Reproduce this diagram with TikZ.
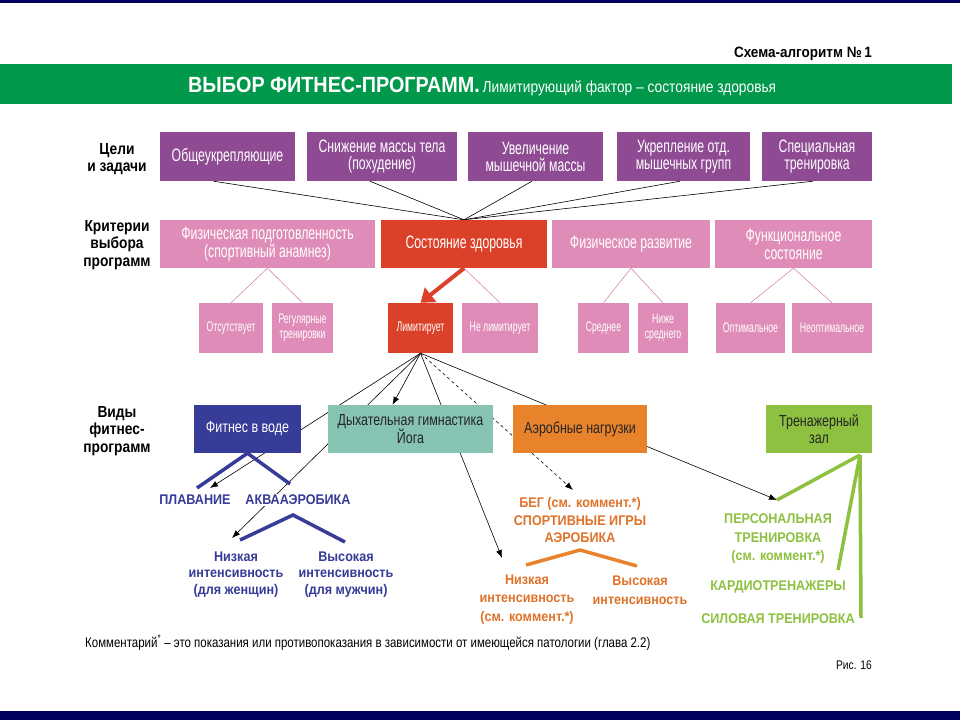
\documentclass[tikz,border=0pt]{standalone}
\usepackage{fontspec}
\setmainfont{Liberation Sans}
\newfontfamily\fBox[FakeStretch=0.68]{Liberation Sans}
\newfontfamily\fSmall[FakeStretch=0.62]{Liberation Sans}
\newfontfamily\fLow[FakeStretch=0.78]{Liberation Sans}
\newfontfamily\fLab[FakeStretch=0.86]{Liberation Sans}
\newfontfamily\fCap[FakeStretch=0.9]{Liberation Sans}
\newfontfamily\fTitle[FakeStretch=0.9]{Liberation Sans}
\newfontfamily\fSub[FakeStretch=0.86]{Liberation Sans}
\newfontfamily\fFoot[FakeStretch=0.82]{Liberation Sans}
\usetikzlibrary{arrows.meta,calc}
\definecolor{cNavy}{HTML}{00005E}
\definecolor{cBand}{HTML}{00984A}
\definecolor{cPurple}{HTML}{8E4A93}
\definecolor{cPink}{HTML}{DF8DB8}
\definecolor{cPinkLine}{HTML}{D88BB0}
\definecolor{cRed}{HTML}{DA4128}
\definecolor{cBlue}{HTML}{363C97}
\definecolor{cTeal}{HTML}{86C3B3}
\definecolor{cOrange}{HTML}{E8822B}
\definecolor{cLime}{HTML}{8DC13F}
\definecolor{cOrT}{HTML}{E0732A}
\definecolor{cGrT}{HTML}{8DC13F}
\pgfdeclarelayer{bg}
\pgfsetlayers{bg,main}
\tikzset{
  box/.style={inner sep=0pt, align=center, text=white},
  pbox/.style={box, fill=cPurple, minimum height=49pt, font=\fBox\fontsize{18}{17}\selectfont},
  kbox/.style={box, fill=cPink, minimum height=48pt, font=\fBox\fontsize{18}{18}\selectfont},
  sbox/.style={box, fill=cPink, minimum height=50pt, font=\fSmall\fontsize{14}{15}\selectfont},
  lbox/.style={box, minimum height=48pt, font=\fLow\fontsize{16}{17}\selectfont},
  lab/.style={align=center, inner sep=0pt, font=\fLab\bfseries\fontsize{16}{17.5}\selectfont},
  captext/.style={align=center, inner sep=1pt, font=\fCap\bfseries\fontsize{14}{17.5}\selectfont},
  conn/.style={line width=0.6pt, black},
  tip/.style={-{Latex[length=8pt,width=6pt]}},
  pinkln/.style={line width=0.6pt, cPinkLine},
  vline/.style={line width=3.5pt, line cap=butt, line join=miter},
  redarrow/.style={line width=4pt, cRed, -{Triangle[length=13pt,width=18pt]}},
}
\begin{document}
\begin{tikzpicture}[x=1pt,y=-1pt]
\useasboundingbox (0,0) rectangle (960,720);
% frame bars
\fill[cNavy] (0,0) rectangle (960,2.5);
\fill[cNavy] (0,711) rectangle (960,720);
\fill[cBand] (0,64) rectangle (952,104);
% header
\node[anchor=base east, inner sep=0pt, font=\fTitle\bfseries\fontsize{15}{15}\selectfont] (alg) at (872,57) {Схема-алгоритм №\,1};
\node[anchor=base west, inner sep=0pt, text=white] (title) at (188,92)
  {{\fTitle\bfseries\fontsize{22}{22}\selectfont ВЫБОР ФИТНЕС-ПРОГРАММ.} {\fSub\fontsize{16}{16}\selectfont Лимитирующий фактор – состояние здоровья}};
% left labels
\node[lab] (l1) at (117,159) {Цели\\и задачи};
\node[lab] (l2) at (117,245) {Критерии\\выбора\\программ};
\node[lab] (l3) at (117,431) {Виды\\фитнес-\\программ};
% goals
\node[pbox, minimum width=135pt] (p1) at (227.5,156.5) {Общеукрепляющие};
\node[pbox, minimum width=150pt] (p2) at (382,156.5) {Снижение массы тела\\(похудение)};
\node[pbox, minimum width=135pt] (p3) at (535.5,156.5) {Увеличение\\мышечной массы};
\node[pbox, minimum width=133pt] (p4) at (683.5,156.5) {Укрепление отд.\\мышечных групп};
\node[pbox, minimum width=110pt] (p5) at (817,156.5) {Специальная\\тренировка};
% criteria
\node[kbox, minimum width=215pt] (c1) at (267.5,244) {Физическая подготовленность\\(спортивный анамнез)};
\node[kbox, fill=cRed, minimum width=166pt] (c2) at (464,244) {Состояние здоровья};
\node[kbox, minimum width=158pt] (c3) at (631,244) {Физическое развитие};
\node[kbox, minimum width=157pt] (c4) at (793.5,244) {Функциональное\\состояние};
% small boxes
\node[sbox, minimum width=64pt] (s1) at (231,328) {Отсутствует};
\node[sbox, minimum width=61pt] (s2) at (302.5,328) {Регулярные\\тренировки};
\node[sbox, fill=cRed, minimum width=65pt] (s3) at (420.5,328) {Лимитирует};
\node[sbox, minimum width=76pt] (s4) at (500,328) {Не лимитирует};
\node[sbox, minimum width=51pt] (s5) at (603.5,328) {Среднее};
\node[sbox, minimum width=50pt] (s6) at (663,328) {Ниже\\среднего};
\node[sbox, minimum width=69pt] (s7) at (750.5,328) {Оптимальное};
\node[sbox, minimum width=80pt] (s8) at (832,328) {Неоптимальное};
% program kinds
\node[lbox, fill=cBlue, minimum width=107pt] (f1) at (247.5,429) {Фитнес в воде};
\node[lbox, fill=cTeal, text=black!85, minimum width=165pt] (f2) at (410.5,429) {Дыхательная гимнастика\\Йога};
\node[lbox, fill=cOrange, text=black!85, minimum width=134pt] (f3) at (580,429) {Аэробные нагрузки};
\node[lbox, fill=cLime, text=black!85, minimum width=106pt] (f4) at (819,429) {Тренажерный\\зал};
% blue texts
\node[captext, text=cBlue] (plav) at (195,500) {ПЛАВАНИЕ};
\node[captext, text=cBlue, fill=white] (akva) at (298,500) {АКВААЭРОБИКА};
\node[captext, text=cBlue, font=\fCap\bfseries\fontsize{14}{16.5}\selectfont] (nizb) at (236,574.5) {Низкая\\интенсивность\\(для женщин)};
\node[captext, text=cBlue, font=\fCap\bfseries\fontsize{14}{16.5}\selectfont] (vysb) at (346,574.5) {Высокая\\интенсивность\\(для мужчин)};
% orange texts
\node[captext, text=cOrT] (beg) at (580,520) {БЕГ (см. коммент.*)\\СПОРТИВНЫЕ ИГРЫ\\АЭРОБИКА};
\node[captext, text=cOrT, font=\fCap\bfseries\fontsize{14}{18.5}\selectfont] (nizo) at (527,599.5) {Низкая\\интенсивность\\(см. коммент.*)};
\node[captext, text=cOrT, font=\fCap\bfseries\fontsize{14}{18.5}\selectfont] (vyso) at (640,590) {Высокая\\интенсивность};
% green texts
\node[captext, text=cGrT, font=\fCap\bfseries\fontsize{14}{18.5}\selectfont] (pers) at (778,539) {ПЕРСОНАЛЬНАЯ\\ТРЕНИРОВКА\\(см. коммент.*)};
\node[captext, text=cGrT] (kard) at (778,587) {КАРДИОТРЕНАЖЕРЫ};
\node[captext, text=cGrT] (silo) at (778,619) {СИЛОВАЯ ТРЕНИРОВКА};
% footer
\node[anchor=base west, inner sep=0pt, font=\fFoot\fontsize{14}{14}\selectfont] (foot) at (85,647) {Комментарий\textsuperscript{*} – это показания или противопоказания в зависимости от имеющейся патологии (глава 2.2)};
\node[anchor=base east, inner sep=0pt, font=\fFoot\fontsize{12.5}{12.5}\selectfont] (fig) at (872,669) {Рис. 16};
% free ends
\coordinate (tPlav) at (210,488);
\coordinate (tNizB) at (232,538);
\coordinate (tNizO) at (502,558);
\coordinate (tBeg) at (573,490);
\coordinate (tPers) at (777,500);
\coordinate (bA) at (197,488);
\coordinate (bB) at (290,484);
\coordinate (bC) at (293,515);
\coordinate (bD) at (240,540);
\coordinate (bE) at (345,542);
\coordinate (oA) at (580,550);
\coordinate (oB) at (526,565);
\coordinate (oC) at (637,566);
\coordinate (gA) at (860,455);
\coordinate (gB) at (838,570);
\coordinate (gC) at (861,618);
\begin{pgfonlayer}{bg}
\fill[white] (0,2.5) rectangle (960,711);
% goals to health state
\draw[conn] ([xshift=-14pt]p1.south) -- (c2.north);
\draw[conn] ([xshift=-12pt]p2.south) -- (c2.north);
\draw[conn] ([xshift=-3.5pt]p3.south) -- (c2.north);
\draw[conn] ([xshift=-3.5pt]p4.south) -- (c2.north);
\draw[conn] ([xshift=-4pt]p5.south) -- (c2.north);
% criteria to values
\draw[pinkln] (c1.south) -- (s1.north);
\draw[pinkln] (c1.south) -- (s2.north);
\draw[pinkln] (c2.south) -- (s4.north);
\draw[pinkln] (c3.south) -- (s5.north);
\draw[pinkln] (c3.south) -- (s6.north);
\draw[pinkln] (c4.south) -- (s7.north);
\draw[pinkln] (c4.south) -- (s8.north);
% from "limits"
\draw[conn, tip] (s3.south) -- (tPlav);
\draw[conn, tip] (s3.south) -- (tNizB);
\draw[conn, tip] (s3.south) -- ([xshift=-18pt]f2.north);
\draw[conn, tip] (s3.south) -- (tNizO);
\draw[conn, dashed, tip] (s3.south) -- (tBeg);
\draw[conn, tip] (s3.south) -- (tPers);
\end{pgfonlayer}
\draw[redarrow] (c2.south) -- (s3.north);
% blue branches
\draw[vline, cBlue] (bA) -- (f1.south) -- (bB);
\draw[vline, cBlue] (bD) -- (bC) -- (bE);
% orange branches
\draw[vline, cOrange] (oB) -- (oA) -- (oC);
% green branches
\draw[vline, cLime] (gA) -- (tPers);
\draw[vline, cLime] (gA) -- (gB);
\draw[vline, cLime] (gA) -- (gC);
\end{tikzpicture}
\end{document}
